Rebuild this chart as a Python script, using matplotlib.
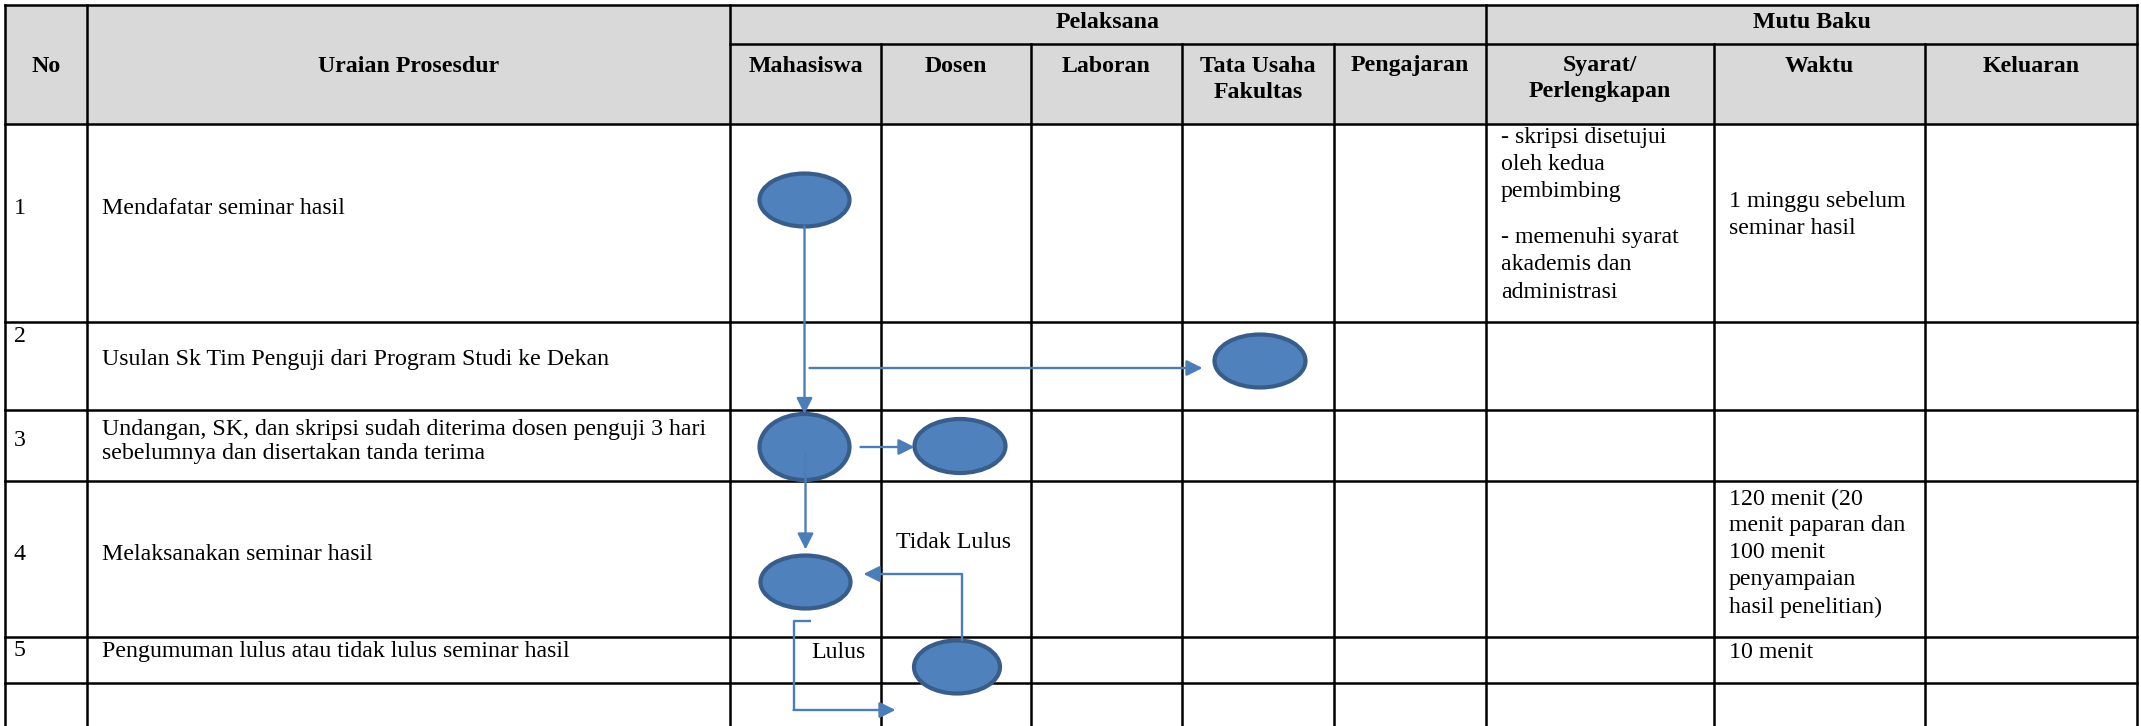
import matplotlib
matplotlib.use("Agg")
import matplotlib.pyplot as plt
from matplotlib.patches import Ellipse, Rectangle

plt.rcParams['font.family'] = ['Liberation Serif', 'DejaVu Serif']

# table content
roles = ["Mahasiswa", "Dosen", "Laboran", "Tata Usaha\nFakultas", "Pengajaran"]
mutu_cols = ["Syarat/\nPerlengkapan", "Waktu", "Keluaran"]
step_no = ["1", "2", "3", "4", "5", ""]
steps = [
    "Mendafatar seminar hasil",
    "Usulan Sk Tim Penguji dari Program Studi ke Dekan",
    "Undangan, SK, dan skripsi sudah diterima dosen penguji 3 hari\nsebelumnya dan disertakan tanda terima",
    "Melaksanakan seminar hasil",
    "Pengumuman lulus atau tidak lulus seminar hasil",
    "",
]
syarat_step1 = ["- skripsi disetujui\noleh kedua\npembimbing",
                "- memenuhi syarat\nakademis dan\nadministrasi"]
waktu = ["1 minggu sebelum\nseminar hasil", "", "",
         "120 menit (20\nmenit paparan dan\n100 menit\npenyampaian\nhasil penelitian)",
         "10 menit", ""]
# flow nodes: (step index, role)
nodes = [(0, "Mahasiswa"), (1, "Tata Usaha\nFakultas"), (2, "Mahasiswa"),
         (2, "Dosen"), (3, "Mahasiswa"), (4, "Dosen")]

# layout (pixel space)
W, H = 2141, 726
col_edges = [5, 87, 730, 881, 1031, 1182, 1334, 1486, 1714, 1925, 2137]
row_edges = [5, 124, 322, 410, 481, 637, 683, 780]
sub_y = 44
no_y = [209, 336, 440, 554, 651]
text_y = [209, 359, 442, 554, 651]
syarat_y = [137, 237]
waktu_y = [202, None, None, 499, 652]
node_y = [200, 361, 447, 446, 582, 667]
node_dx = [-1, 2, -1, 4, 0, 1]
node_w = [90, 91, 90, 91, 90, 86]
node_h = [53, 53, 66, 54, 53, 53]
lh = 27
fs = 17.2
fill_c = "#4F81BD"
edge_c = "#385D8A"
line_c = "#4A7EBB"

fig = plt.figure(figsize=(W / 100, H / 100), dpi=100)
ax = fig.add_axes([0, 0, 1, 1])
ax.set_xlim(0, W)
ax.set_ylim(H, 0)
ax.axis("off")

L, R = col_edges[0], col_edges[-1]
ax.add_patch(Rectangle((L, row_edges[0]), R - L, row_edges[1] - row_edges[0],
                       facecolor="#D9D9D9", edgecolor="none", zorder=0))

# grid lines
lw = 1.8
for y in row_edges[:-1]:
    ax.plot([L, R], [y, y], color="black", lw=lw, zorder=1)
ax.plot([col_edges[2], R], [sub_y, sub_y], color="black", lw=lw, zorder=1)
for i, x in enumerate(col_edges):
    top = row_edges[0] if i in (0, 1, 2, 7, 10) else sub_y
    ax.plot([x, x], [top, row_edges[-1]], color="black", lw=lw, zorder=1)


def cx(i):
    return (col_edges[i] + col_edges[i + 1]) / 2


def lines(x, y0, s, ha="left", step=lh, **kw):
    for k, t in enumerate(s.split("\n")):
        ax.text(x, y0 + k * step, t, ha=ha, va="center", fontsize=fs, **kw)


# headers
hy = (row_edges[0] + row_edges[1]) / 2 + 2
lines(cx(0), hy, "No", ha="center", fontweight="bold")
lines(cx(1), hy, "Uraian Prosesdur", ha="center", fontweight="bold")
lines((col_edges[2] + col_edges[7]) / 2, 22, "Pelaksana", ha="center", fontweight="bold")
lines((col_edges[7] + col_edges[10]) / 2, 22, "Mutu Baku", ha="center", fontweight="bold")
for j, r in enumerate(roles + mutu_cols):
    lines(cx(2 + j), 66, r, ha="center", step=26, fontweight="bold")

# body text
for i in range(5):
    lines(col_edges[0] + 9, no_y[i], step_no[i])
    s = steps[i]
    y0 = text_y[i] - (s.count("\n") * 24) / 2
    lines(col_edges[1] + 15, y0, s, step=24)
for p, s in enumerate(syarat_step1):
    lines(col_edges[7] + 15, syarat_y[p], s, step=27.5)
for i, s in enumerate(waktu):
    if s:
        lines(col_edges[8] + 15, waktu_y[i], s)

# flow nodes
pos = []
for k, (si, role) in enumerate(nodes):
    x = cx(2 + roles.index(role)) + node_dx[k]
    y = node_y[k]
    pos.append((x, y))
    ax.add_patch(Ellipse((x, y), node_w[k], node_h[k], facecolor=fill_c,
                         edgecolor=edge_c, lw=3, zorder=3))


def seg(pts):
    xs = [p[0] for p in pts]
    ys = [p[1] for p in pts]
    ax.plot(xs[:-1], ys[:-1], color=line_c, lw=1.7, zorder=4, solid_capstyle="butt")
    ax.annotate("", xy=pts[-1], xytext=pts[-2],
                arrowprops=dict(arrowstyle="-|>", color=line_c, lw=1.7,
                                mutation_scale=24, shrinkA=0, shrinkB=0), zorder=4)


(x0, y0), (x1, y1), (x2, y2), (x3, y3), (x4, y4), (x5, y5) = pos
seg([(x0, y0 + node_h[0] / 2), (x0, y2 - node_h[2] / 2)])
seg([(x0 + 5, y1 + 7), (x1 - node_w[1] / 2 - 12, y1 + 7)])
seg([(x2 + node_w[2] / 2 + 11, y3 + 1), (x3 - node_w[3] / 2, y3 + 1)])
seg([(x2 + 1, y2 + 6), (x2 + 1, y4 - node_h[4] / 2 - 6)])
seg([(x5 + 5, y5 - node_h[5] / 2), (x5 + 5, y4 - 8), (x4 + node_w[4] / 2 + 13, y4 - 8)])
seg([(x4 + 5, y4 + 39), (x4 - 12, y4 + 39), (x4 - 12, 710), (x4 + 90, 710)])

ax.text(896, 542, "Tidak Lulus", ha="left", va="center", fontsize=fs)
ax.text(811, 652, "Lulus", ha="left", va="center", fontsize=fs)

fig.savefig("out.png", dpi=100)
